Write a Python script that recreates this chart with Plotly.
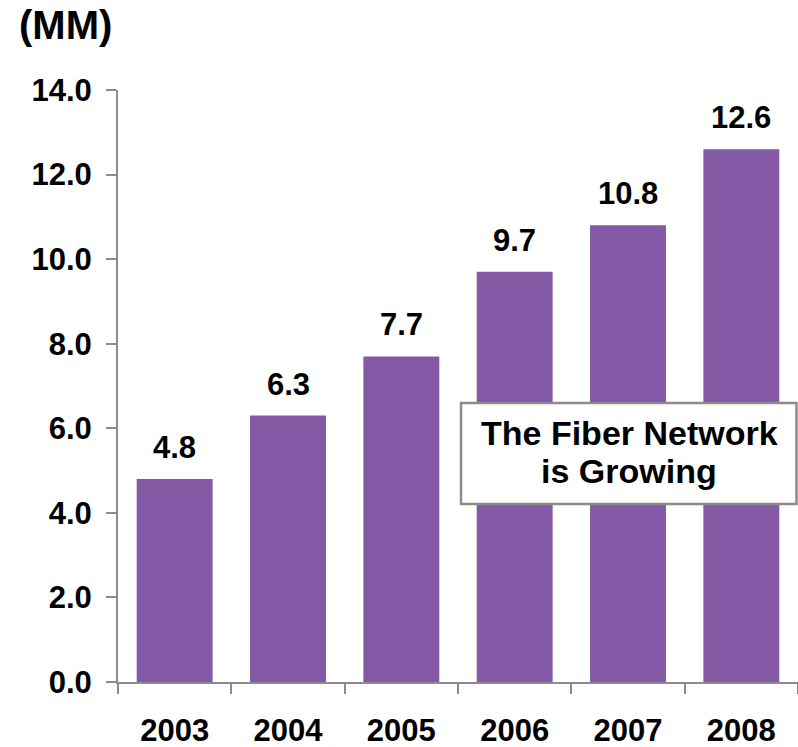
import plotly.graph_objects as go

years = ["2003", "2004", "2005", "2006", "2007", "2008"]
values = [4.8, 6.3, 7.7, 9.7, 10.8, 12.6]
y_ticks = [0, 2, 4, 6, 8, 10, 12, 14]
unit_label = "(MM)"
box_lines = ["The Fiber Network", "is Growing"]

BAR = "#8359A5"
AXIS = "#8C8C8C"
FONT = "Liberation Sans, Arial, sans-serif"

# pixel -> paper helpers (plot area: x 118..798, y 90..682)
def px(x):
    return (x - 118) / 680

def py(y):
    return (682 - y) / 592

xpos = list(range(len(years)))
bounds = [i - 0.5 for i in range(len(years) + 1)]

fig = go.Figure(go.Bar(x=xpos, y=values, marker_color=BAR, marker_line_width=0))

for xi, v in zip(xpos, values):
    fig.add_annotation(x=xi, y=v, xref="x", yref="y", text=f"{v:.1f}",
                       showarrow=False, yanchor="bottom", yshift=12,
                       font=dict(family=FONT, size=31, color="black", weight="bold"))
fig.add_annotation(x=px(17), y=py(25), xref="paper", yref="paper",
                   text=unit_label, showarrow=False, xanchor="left", yanchor="middle",
                   font=dict(family=FONT, size=40, color="black", weight="bold"))

fig.add_shape(type="rect", xref="paper", yref="paper",
              x0=px(461), x1=px(796.5), y0=py(504), y1=py(403),
              fillcolor="white", line=dict(color="#8C8C8C", width=2.5), layer="above")
for line, yc in zip(box_lines, [433, 471]):
    fig.add_annotation(x=px(629), y=py(yc), xref="paper", yref="paper",
                       xanchor="center", yanchor="middle", text=line, showarrow=False,
                       font=dict(family=FONT, size=34, color="black", weight="bold"))

fig.update_layout(
    width=798, height=747,
    margin=dict(l=118, r=0, t=90, b=65, autoexpand=False),
    paper_bgcolor="white", plot_bgcolor="white",
    showlegend=False, bargap=0.33,
    font=dict(family=FONT, color="black"),
    xaxis=dict(range=[-0.5, len(years) - 0.5], tickvals=xpos, ticktext=years,
               showline=True, linecolor=AXIS, linewidth=2, ticks="",
               minor=dict(tickvals=bounds, ticks="outside", ticklen=10,
                          tickcolor=AXIS, tickwidth=2, showgrid=False),
               tickfont=dict(family=FONT, size=31, color="black", weight="bold"),
               tickangle=0, ticklabelstandoff=20, showgrid=False, zeroline=False,
               automargin=False),
    yaxis=dict(range=[0, 14], tickvals=y_ticks, tickformat=".1f",
               showline=True, linecolor=AXIS, linewidth=2, ticks="outside",
               ticklen=10, tickcolor=AXIS, tickwidth=2,
               tickfont=dict(family=FONT, size=31, color="black", weight="bold"),
               ticklabelstandoff=8, showgrid=False, zeroline=False, automargin=False),
)

fig.write_html("out.html", config={"displayModeBar": False},
               post_script="document.body.style.margin='0';")
